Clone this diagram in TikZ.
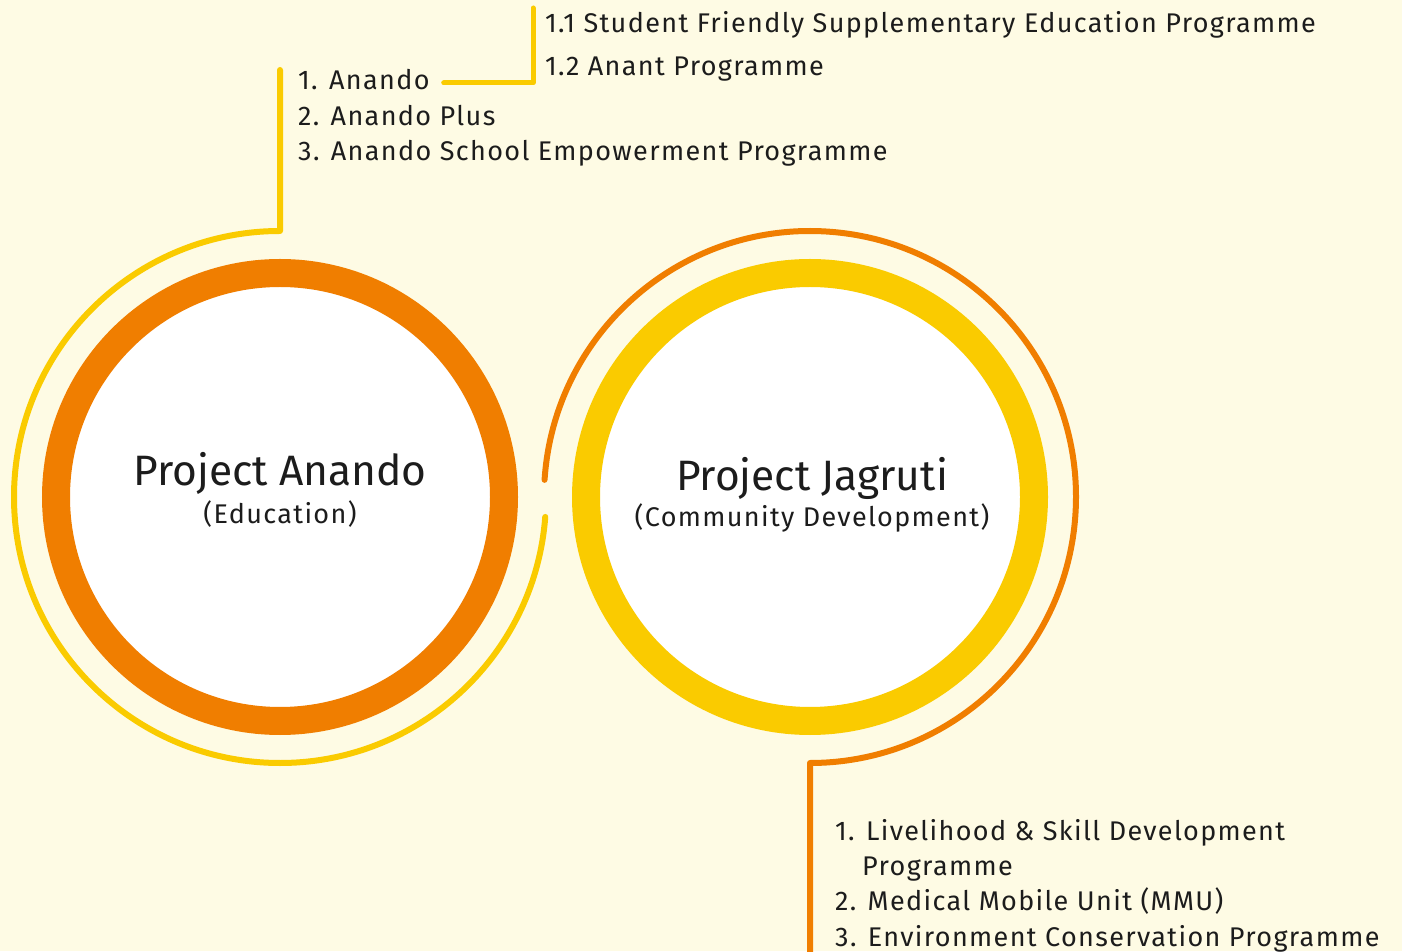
\documentclass[tikz,border=0pt]{standalone}
\usepackage{fontspec}
\setmainfont{Fira Sans}
\newfontfamily\listfont{Fira Sans}[LetterSpace=5]
\usetikzlibrary{calc}

\definecolor{bgcream}{HTML}{FEFBE4}
\definecolor{ringorange}{HTML}{F07E00}
\definecolor{ringyellow}{HTML}{FACB00}
\definecolor{inkgrey}{HTML}{1C1C1C}

\begin{document}
\begin{tikzpicture}[x=1pt,y=1pt,
  thickring/.style={line width=28pt, fill=white},
  thinring/.style={line width=6pt, line cap=round, line join=round},
  branch/.style={line width=5pt, line cap=round, line join=round},
  item/.style={anchor=base west, inner sep=0pt, text=inkgrey, font=\listfont\fontsize{27}{30}\selectfont},
  title/.style={anchor=base, inner sep=0pt, text=inkgrey, font=\fontsize{42.5}{46}\selectfont},
  subtitle/.style={anchor=base, inner sep=0pt, text=inkgrey, font=\listfont\fontsize{27}{30}\selectfont}]
\fill [bgcream] (0,0) rectangle (1402,951);
\useasboundingbox (0,0) rectangle (1402,951);

% the two hubs
\coordinate (anandoHub) at (280,454);
\coordinate (jagrutiHub) at (810,454);
\draw [ringorange, thickring] (anandoHub) circle [radius=224];
\draw [ringyellow, thickring] (jagrutiHub) circle [radius=224];
\node (anandoTitle) [title] at (280,465) {Project Anando};
\node (anandoSub) [subtitle] at (280,427) {(Education)};
\node (jagrutiTitle) [title] at (812,460) {Project Jagruti};
\node (jagrutiSub) [subtitle] at (812,424) {(Community Development)};

% Anando list
\node (anandoOne) [item] at (298,861) {1. Anando};
\node (anandoTwo) [item] at (298,825) {2. Anando Plus};
\node (anandoThree) [item] at (298,790) {3. Anando School Empowerment Programme};
\node (anandoOneA) [item] at (545,918) {1.1 Student Friendly Supplementary Education Programme};
\node (anandoOneB) [item] at (545,875) {1.2 Anant Programme};

% Jagruti list
\node (jagrutiOne) [item] at (835,111) {1. Livelihood \& Skill Development};
\node (jagrutiOneCont) [item] at (862,76) {Programme};
\node (jagrutiTwo) [item] at (835,41) {2. Medical Mobile Unit (MMU)};
\node (jagrutiThree) [item] at (835,5) {3. Environment Conservation Programme};

% connectors
\coordinate (anandoTop) at (280,881);
\coordinate (jagrutiFoot) at (810,-4);
\draw [ringyellow, thinring] (anandoTop) -- ($(anandoHub)+(0,266)$)
  arc [start angle=90, end angle=355.7, radius=266];
\draw [ringorange, thinring] ($(jagrutiHub)+(176.3:266)$)
  arc [start angle=176.3, end angle=-90, radius=266] -- (jagrutiFoot);
\coordinate (branchTop) at (533,943);
\draw [ringyellow, branch] ([xshift=14pt,yshift=7pt]anandoOne.base east) -| (branchTop);
\end{tikzpicture}
\end{document}
